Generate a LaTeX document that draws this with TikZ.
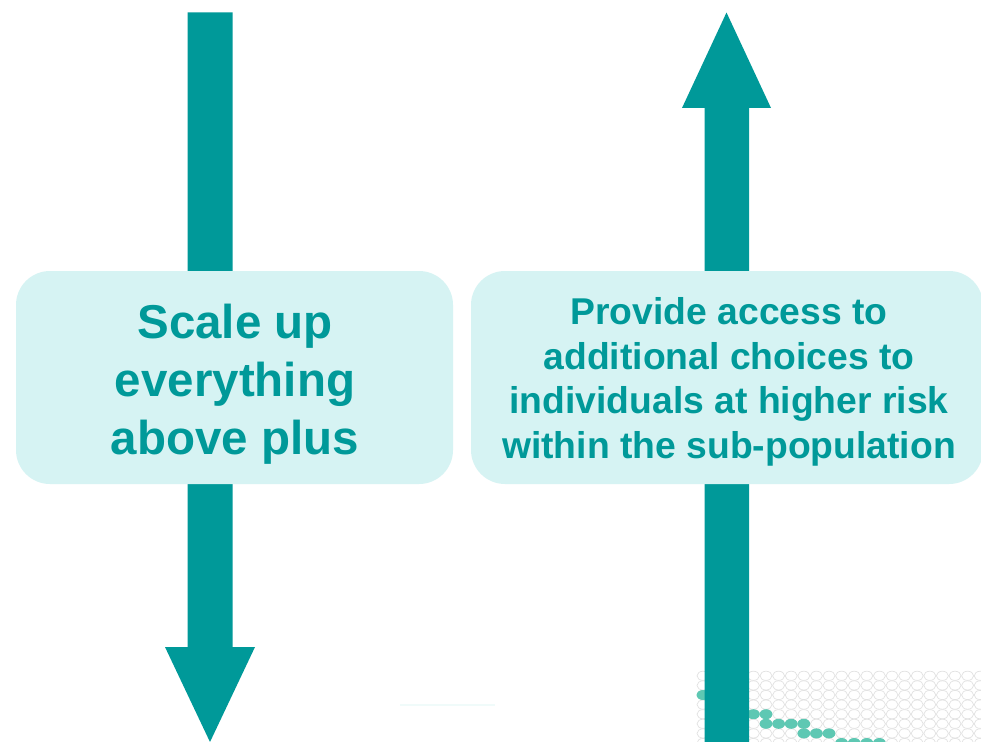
\documentclass[tikz,border=0pt]{standalone}
\usepackage{fontspec}
\setmainfont{Liberation Sans}
\definecolor{teal1}{HTML}{009999}
\definecolor{boxfill}{HTML}{D6F3F3}
\definecolor{mint}{HTML}{5EC8B3}
\definecolor{gridline}{HTML}{E2E2E2}
\definecolor{faint}{HTML}{F0FBFA}
\begin{document}
\begin{tikzpicture}[x=1pt,y=-1pt,
  arrowshape/.style={fill=teal1,draw=none},
  panel/.style={fill=boxfill,draw=none,rounded corners=34pt,inner sep=0pt},
  label/.style={text=teal1,align=center,inner sep=0pt},
  cell/.style={draw=gridline,line width=0.7pt,fill=white},
  hot/.style={fill=mint,draw=none}]
\useasboundingbox (0,0) rectangle (981,741);
\fill[white] (0,0) rectangle (981,741);
% dot grid
\foreach \r in {0,...,7}{
  \foreach \c in {0,...,22}{
    \draw[cell] (703+12.6*\c, 675.8+9.6*\r) ellipse [x radius=6pt, y radius=4.6pt];
  }
}
\foreach \c/\r in {0/2,4/4,5/4,5/5,6/5,7/5,8/5,8/6,9/6,10/6,11/7,12/7,13/7,14/7}{
  \fill[hot] (703+12.6*\c, 675.8+9.6*\r) ellipse [x radius=6.4pt, y radius=5pt];
}
% faint line
\draw[faint, line width=2pt] (400,704.5) -- (495,704.5);
% down arrow
\fill[arrowshape] (187.5,12.5) -- (232.5,12.5) -- (232.5,647) -- (255,647) -- (210,742)
  -- (165,647) -- (187.5,647) -- cycle;
% up arrow
\fill[arrowshape] (726.5,12.5) -- (771,108) -- (749,108) -- (749,742) -- (704.5,742)
  -- (704.5,108) -- (682,108) -- cycle;
% boxes
\node[panel, minimum width=437pt, minimum height=213pt] (lbox) at (234.5,377.5) {};
\node[panel, minimum width=512pt, minimum height=213pt] (rbox) at (727,377.5) {};
% texts
\node[label, font=\bfseries\fontsize{47.5}{58}\selectfont] (ltext) at (235,384)
  {Scale up\\everything\\above plus};
\node[label, font=\bfseries\fontsize{37.3}{44.5}\selectfont] (rtext) at (729,382)
  {Provide access to\\additional choices to\\individuals at higher risk\\within the sub-population};
\end{tikzpicture}
\end{document}
